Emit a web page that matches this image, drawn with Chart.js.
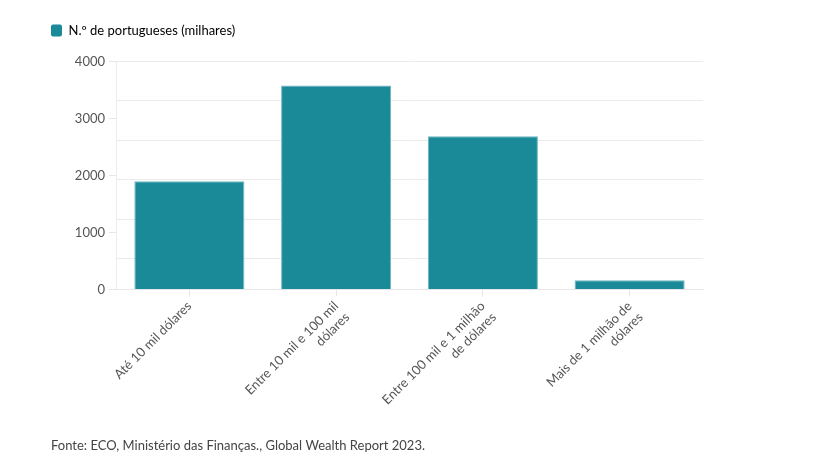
<!DOCTYPE html>
<html>
<head>
<meta charset="utf-8">
<script src="https://cdn.jsdelivr.net/npm/chart.js@4.4.0/dist/chart.umd.min.js"></script>
<style>
html,body{margin:0;padding:0;background:#fff;}
#wrap{width:821px;height:467px;position:relative;}
</style>
</head>
<body>
<div id="wrap"><canvas id="c" width="821" height="467"></canvas></div>
<script>
const categories = [
  "Até 10 mil dólares",
  ["Entre 10 mil e 100 mil", "dólares"],
  ["Entre 100 mil e 1 milhão", "de dólares"],
  ["Mais de 1 milhão de", "dólares"]
];
const values = [1900, 3580, 2690, 160];
const seriesName = "N.º de portugueses (milhares)";
const labelTicks = [0, 1000, 2000, 3000, 4000];
const gridTicks = [0, 535, 1228, 1921, 2614, 3307, 4000];
const sourceText = "Fonte: ECO, Ministério das Finanças., Global Wealth Report 2023.";

const FONT = "Lato, 'Open Sans', sans-serif";
Chart.defaults.font.family = FONT;
Chart.defaults.font.size = 13;
Chart.defaults.color = "#555";

new Chart(document.getElementById("c"), {
  type: "bar",
  data: {
    labels: categories,
    datasets: [{
      label: seriesName,
      data: values,
      backgroundColor: "#1b8a98",
      borderColor: "#6bb6c0",
      borderWidth: 1,
      categoryPercentage: 1.0,
      barPercentage: 0.75,
      xAxisID: "x",
      yAxisID: "y"
    }]
  },
  options: {
    responsive: false,
    animation: false,
    layout: { padding: { left: 51, right: 118, top: 24, bottom: 8 } },
    plugins: {
      tooltip: { enabled: false },
      legend: {
        display: true,
        position: "top",
        align: "start",
        labels: {
          boxWidth: 11,
          boxHeight: 12,
          useBorderRadius: true,
          borderRadius: 2,
          color: "#444",
          font: { size: 13, family: FONT },
          padding: 0,
          generateLabels: (chart) => [{
            text: seriesName,
            fillStyle: "#1b8a98",
            strokeStyle: "#1b8a98",
            lineWidth: 0,
            borderRadius: 2,
            datasetIndex: 0
          }]
        }
      },
      subtitle: {
        display: true,
        position: "bottom",
        align: "start",
        text: sourceText,
        color: "#444",
        font: { size: 13, family: FONT },
        padding: { top: 13, bottom: 5 }
      }
    },
    scales: {
      x: {
        position: "bottom",
        afterFit: (s) => { s.height = 136; },
        grid: { display: true, offset: false, drawOnChartArea: false, color: "#e6e6e6", tickLength: 7 },
        border: { display: true, color: "#e6e6e6" },
        ticks: {
          minRotation: 45, maxRotation: 45, color: "#555",
          font: { size: 13, family: FONT }, padding: 2, autoSkip: false
        }
      },
      xspace: {
        type: "category",
        position: "top",
        afterFit: (s) => { s.height = 14.5; },
        grid: { display: false },
        border: { display: false },
        ticks: { display: false }
      },
      y: {
        position: "left",
        min: 0, max: 4000,
        afterBuildTicks: (axis) => { axis.ticks = labelTicks.map(v => ({ value: v })); },
        afterFit: (s) => { s.width = 65; },
        grid: { display: true, drawOnChartArea: false, color: "#e6e6e6", tickLength: 7 },
        border: { display: true, color: "#ececec" },
        ticks: { color: "#555", font: { size: 13, family: FONT }, padding: 4, callback: (v) => String(v) }
      },
      yg: {
        position: "right",
        min: 0, max: 4000,
        afterBuildTicks: (axis) => { axis.ticks = gridTicks.map(v => ({ value: v })); },
        afterFit: (s) => { s.width = 0; },
        grid: { display: true, drawOnChartArea: true, drawTicks: false, color: "#ebebeb" },
        border: { display: false },
        ticks: { display: false }
      }
    }
  }
});
</script>
</body>
</html>
